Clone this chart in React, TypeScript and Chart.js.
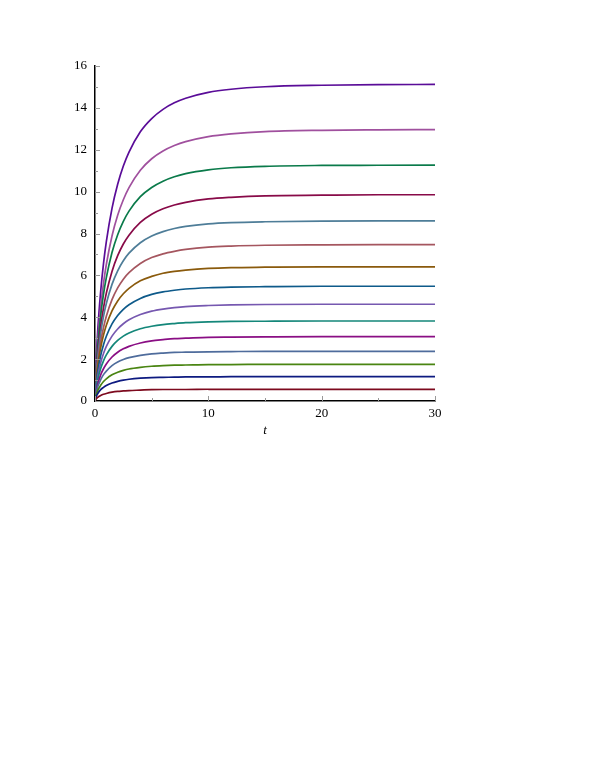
import React, { useEffect, useRef } from "react";
import { Chart, registerables } from "chart.js";

Chart.register(...registerables);

const T = [0, 0.1, 0.25, 0.5, 0.75, 1, 1.5, 2, 2.5, 3, 4, 5, 6, 7, 8, 10, 12, 15, 20, 25, 30];

const Y_PURPLE = [0, 1.89, 3.44, 5.23, 6.56, 7.61, 9.2, 10.35, 11.22, 11.89, 12.86, 13.49, 13.93, 14.24, 14.46, 14.74, 14.89, 15.01, 15.08, 15.11, 15.12];
const Y_PINK = [0, 1.62, 2.95, 4.49, 5.62, 6.52, 7.88, 8.87, 9.61, 10.19, 11.02, 11.57, 11.94, 12.2, 12.39, 12.63, 12.76, 12.87, 12.93, 12.95, 12.96];
const Y_GREEN = [0, 1.48, 2.69, 4.08, 5.1, 5.89, 7.09, 7.94, 8.58, 9.07, 9.76, 10.2, 10.5, 10.71, 10.86, 11.04, 11.14, 11.21, 11.25, 11.26, 11.27];
const Y_MAROON = [0, 1.3, 2.35, 3.56, 4.45, 5.15, 6.19, 6.94, 7.5, 7.92, 8.53, 8.92, 9.18, 9.36, 9.49, 9.65, 9.73, 9.8, 9.83, 9.85, 9.85];
const Y_STEEL = [0, 1.19, 2.15, 3.24, 4.04, 4.66, 5.57, 6.22, 6.7, 7.06, 7.56, 7.88, 8.09, 8.24, 8.34, 8.46, 8.52, 8.56, 8.59, 8.6, 8.6];
const Y_ROSE = [0, 1.03, 1.87, 2.82, 3.51, 4.05, 4.84, 5.4, 5.82, 6.13, 6.57, 6.85, 7.03, 7.15, 7.24, 7.35, 7.4, 7.44, 7.46, 7.47, 7.47];
const Y_BROWN = [0, 0.94, 1.69, 2.54, 3.15, 3.62, 4.3, 4.78, 5.12, 5.38, 5.74, 5.95, 6.1, 6.19, 6.25, 6.33, 6.37, 6.39, 6.41, 6.41, 6.41];
const Y_BLUE = [0, 0.8, 1.44, 2.17, 2.69, 3.09, 3.68, 4.08, 4.38, 4.6, 4.9, 5.09, 5.21, 5.29, 5.35, 5.41, 5.44, 5.46, 5.48, 5.48, 5.48];
const Y_LAVENDER = [0, 0.68, 1.22, 1.83, 2.27, 2.61, 3.1, 3.44, 3.69, 3.88, 4.13, 4.29, 4.39, 4.46, 4.51, 4.56, 4.59, 4.61, 4.62, 4.62, 4.62];
const Y_TEAL = [0, 0.58, 1.04, 1.55, 1.92, 2.2, 2.61, 2.89, 3.1, 3.25, 3.45, 3.57, 3.65, 3.7, 3.74, 3.78, 3.8, 3.81, 3.82, 3.82, 3.82];
const Y_MAGENTA = [0, 0.46, 0.83, 1.25, 1.54, 1.77, 2.1, 2.33, 2.49, 2.61, 2.77, 2.87, 2.93, 2.98, 3.0, 3.04, 3.05, 3.06, 3.07, 3.07, 3.07];
const Y_SLATE = [0, 0.38, 0.69, 1.02, 1.26, 1.43, 1.69, 1.86, 1.98, 2.07, 2.18, 2.25, 2.29, 2.32, 2.33, 2.35, 2.36, 2.37, 2.37, 2.37, 2.37];
const Y_OLIVE = [0, 0.28, 0.51, 0.75, 0.93, 1.06, 1.25, 1.37, 1.46, 1.53, 1.61, 1.66, 1.69, 1.71, 1.72, 1.74, 1.74, 1.75, 1.75, 1.75, 1.75];
const Y_NAVY = [0, 0.2, 0.36, 0.54, 0.65, 0.74, 0.86, 0.94, 1.0, 1.04, 1.09, 1.12, 1.13, 1.14, 1.15, 1.15, 1.16, 1.16, 1.16, 1.16, 1.16];
const Y_DARKRED = [0, 0.1, 0.18, 0.26, 0.32, 0.36, 0.42, 0.46, 0.48, 0.5, 0.52, 0.54, 0.55, 0.55, 0.55, 0.56, 0.56, 0.56, 0.56, 0.56, 0.56];

const SERIES = [
  Y_DARKRED, Y_NAVY, Y_OLIVE, Y_SLATE, Y_MAGENTA, Y_TEAL, Y_LAVENDER, Y_BLUE,
  Y_BROWN, Y_ROSE, Y_STEEL, Y_MAROON, Y_GREEN, Y_PINK, Y_PURPLE,
];
const COLORS = [
  "#7d0a1e", "#0d1a80", "#4a8512", "#4f6c9c", "#8a0e84", "#14877a", "#7658b0", "#0e5a8a",
  "#8a5a0c", "#a5565f", "#4e7d98", "#880a48", "#0a7a4a", "#a0509e", "#5a0c98",
];

const X_MAJOR = [0, 10, 20, 30];
const X_MINOR = [5, 15, 25];
const Y_MAJOR = [0, 2, 4, 6, 8, 10, 12, 14, 16];
const Y_MINOR = [1, 3, 5, 7, 9, 11, 13, 15];

const innerTicks = {
  id: "innerTicks",
  afterDatasetsDraw(chart: any) {
    const { ctx, chartArea: ca, scales } = chart;
    const xs = scales.x;
    const ys = scales.y;
    ctx.save();
    ctx.lineWidth = 1;
    ctx.strokeStyle = "#999";
    const drawY = (vals: number[], len: number) => {
      vals.forEach((v) => {
        const p = Math.round(ys.getPixelForValue(v)) + 0.5;
        ctx.beginPath();
        ctx.moveTo(ca.left, p);
        ctx.lineTo(ca.left + len, p);
        ctx.stroke();
      });
    };
    const drawX = (vals: number[], len: number) => {
      vals.forEach((v) => {
        const p = Math.round(xs.getPixelForValue(v)) + 0.5;
        ctx.beginPath();
        ctx.moveTo(p, ca.bottom);
        ctx.lineTo(p, ca.bottom - len);
        ctx.stroke();
      });
    };
    drawY(Y_MAJOR, 5);
    drawY(Y_MINOR, 3);
    drawX(X_MAJOR, 5);
    drawX(X_MINOR, 3);
    ctx.restore();
  },
};

export default function App() {
  const ref = useRef<HTMLCanvasElement>(null);
  useEffect(() => {
    if (!ref.current) return;
    const chart = new Chart(ref.current, {
      type: "line",
      data: {
        datasets: SERIES.map((ys, i) => ({
          data: ys.map((y, j) => ({ x: T[j], y })),
          borderColor: COLORS[i],
          borderWidth: 1.7,
          pointRadius: 0,
          fill: false,
          cubicInterpolationMode: "monotone" as const,
        })),
      },
      options: {
        animation: false,
        responsive: false,
        maintainAspectRatio: false,
        layout: { padding: { left: 55, right: 160, top: 66, bottom: 329 } },
        plugins: { legend: { display: false }, tooltip: { enabled: false } },
        scales: {
          x: {
            type: "linear",
            min: 0,
            max: 30,
            afterFit: (s: any) => { s.height = 40; },
            grid: { display: false, drawTicks: false },
            border: { display: true, color: "#000", width: 1.5 },
            ticks: {
              stepSize: 10,
              padding: 5,
              color: "#000",
              font: { family: "'Liberation Serif', serif", size: 13 },
            },
            title: {
              display: true,
              text: "t",
              color: "#000",
              padding: { top: 0, bottom: 3 },
              font: { family: "'Liberation Serif', serif", size: 13, style: "italic" },
            },
          },
          y: {
            type: "linear",
            min: 0,
            max: 16,
            afterFit: (s: any) => { s.width = 40; },
            grid: { display: false, drawTicks: false },
            border: { display: true, color: "#000", width: 1.5 },
            ticks: {
              stepSize: 2,
              padding: 8,
              color: "#000",
              font: { family: "'Liberation Serif', serif", size: 13 },
            },
          },
        },
      },
      plugins: [innerTicks],
    });
    return () => chart.destroy();
  }, []);
  return (
    <div style={{ position: "absolute", left: 0, top: 0, width: 595, height: 770, background: "#fff" }}>
      <canvas ref={ref} width={595} height={770} style={{ width: 595, height: 770 }} />
    </div>
  );
}
